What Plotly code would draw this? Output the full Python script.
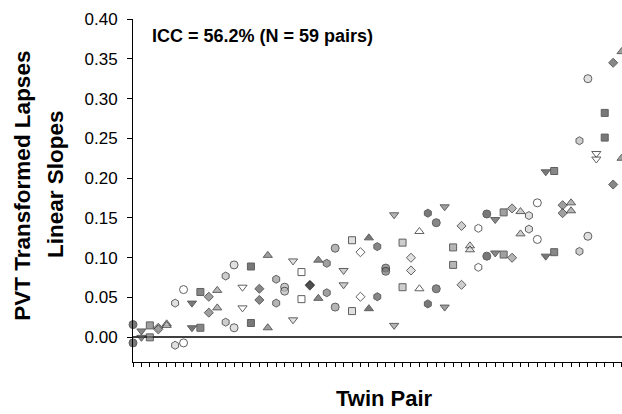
import plotly.graph_objects as go

# Twin pair index (rank order) and the two twins' slopes
pair_index = list(range(59))
twin_a = [0.016, 0.008, 0.015, 0.012, 0.017, 0.043, 0.060, 0.043, 0.057, 0.051,
          0.059, 0.077, 0.091, 0.063, 0.089, 0.061, 0.103, 0.073, 0.063, 0.096,
          0.082, 0.066, 0.097, 0.093, 0.112, 0.084, 0.122, 0.107, 0.125, 0.114,
          0.087, 0.154, 0.119, 0.100, 0.133, 0.156, 0.144, 0.164, 0.113, 0.140,
          0.115, 0.137, 0.155, 0.148, 0.157, 0.162, 0.158, 0.153, 0.169, 0.208,
          0.209, 0.166, 0.169, 0.247, 0.325, 0.231, 0.282, 0.345, 0.359]
twin_b = [-0.007, 0.000, 0.000, 0.010, 0.015, -0.010, -0.007, 0.012, 0.012, 0.031,
          0.037, 0.019, 0.012, 0.037, 0.018, 0.047, 0.012, 0.043, 0.058, 0.022,
          0.048, 0.065, 0.049, 0.056, 0.038, 0.066, 0.033, 0.051, 0.036, 0.051,
          0.083, 0.015, 0.063, 0.084, 0.061, 0.042, 0.061, 0.038, 0.091, 0.066,
          0.110, 0.088, 0.102, 0.106, 0.104, 0.100, 0.130, 0.136, 0.123, 0.102,
          0.107, 0.156, 0.159, 0.108, 0.127, 0.224, 0.251, 0.192, 0.225]

shape_cycle = ["circle", "triangle-down", "square", "diamond", "triangle-up", "hexagon"]
shape_size = {"circle": 8, "triangle-down": 8, "square": 7, "diamond": 7,
              "triangle-up": 8, "hexagon": 8}
shade_cycle = ["#3f3f3f", "#555555", "#777777", "#969696", "#b8b8b8", "#d4d4d4", "#ffffff"]

y_ticks = [0.00, 0.05, 0.10, 0.15, 0.20, 0.25, 0.30, 0.35, 0.40]
y_tick_text = ["%.2f" % v for v in y_ticks]

xs, ys, syms, cols, sizes = [], [], [], [], []
for i, a, b in zip(pair_index, twin_a, twin_b):
    s = shape_cycle[i % 6]
    c = shade_cycle[i % 7]
    for v in (a, b):
        xs.append(i)
        ys.append(v)
        syms.append(s)
        cols.append(c)
        sizes.append(shape_size[s])

fig = go.Figure()
fig.add_trace(go.Scatter(
    x=xs, y=ys, mode="markers", cliponaxis=False, showlegend=False,
    marker=dict(symbol=syms, color=cols, size=sizes,
                line=dict(color="#1e1e1e", width=1)),
))

font_main = "Liberation Sans, Arial, sans-serif"
fig.update_layout(
    width=622, height=414,
    margin=dict(l=133, r=0, t=19, b=52),
    paper_bgcolor="white", plot_bgcolor="white",
    font=dict(family=font_main, color="black"),
    xaxis=dict(range=[0, 58.05], showgrid=False, zeroline=False,
               showline=True, linecolor="black", linewidth=1,
               ticks="outside", ticklen=4, tickcolor="black", tickwidth=1,
               tickvals=pair_index, showticklabels=False),
    yaxis=dict(range=[-0.031, 0.40], showgrid=False,
               zeroline=True, zerolinecolor="#404040", zerolinewidth=1.5,
               showline=True, linecolor="black", linewidth=1,
               ticks="outside", ticklen=5, tickcolor="black", tickwidth=1,
               tickvals=y_ticks, ticktext=y_tick_text,
               tickfont=dict(family=font_main, size=17, color="black"),
               ticklabelstandoff=6),
    annotations=[
        dict(text="<b>ICC = 56.2% (N = 59 pairs)</b>", xref="paper", yref="paper",
             x=0.034, y=0.950, xanchor="left", yanchor="middle", showarrow=False,
             font=dict(family=font_main, size=18, color="black")),
        dict(text="<b>Twin Pair</b>", xref="paper", yref="paper",
             x=0.5133, y=-0.105, xanchor="center", yanchor="middle", showarrow=False,
             font=dict(family=font_main, size=22, color="black")),
        dict(text="<b>PVT Transformed Lapses</b>", xref="paper", yref="paper",
             x=-0.225, y=0.514, xanchor="center", yanchor="middle", showarrow=False,
             textangle=-90, font=dict(family=font_main, size=22.5, color="black")),
        dict(text="<b>Linear Slopes</b>", xref="paper", yref="paper",
             x=-0.1575, y=0.519, xanchor="center", yanchor="middle", showarrow=False,
             textangle=-90, font=dict(family=font_main, size=22.5, color="black")),
    ],
)

fig.write_html("out.html")
